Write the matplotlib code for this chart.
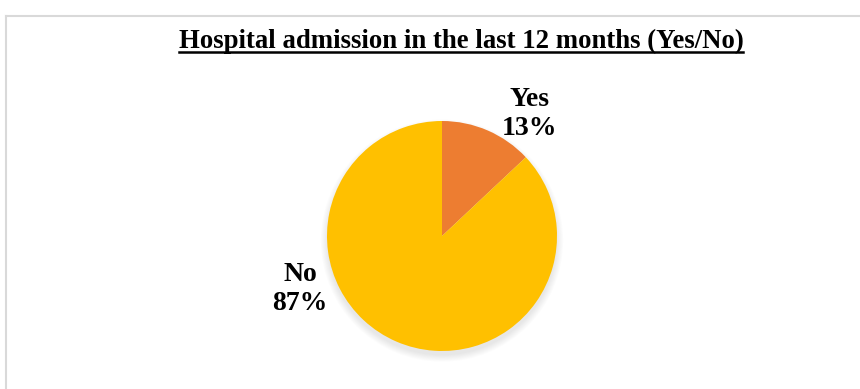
import numpy as np
import matplotlib
matplotlib.use("Agg")
import matplotlib.pyplot as plt
from matplotlib.lines import Line2D
from matplotlib.patches import Circle

# admissions in the last 12 months
labels = ["Yes", "No"]
shares = [13, 87]
colors = ["#ED7D31", "#FFC000"]

W, H = 860, 389
fig = plt.figure(figsize=(W / 100, H / 100), dpi=100)
fig.patch.set_facecolor("white")

# chart area frame (left and top edges visible)
fig.add_artist(Line2D([6 / W, 6 / W], [0, 1 - 16 / H], color="#D9D9D9", lw=1.5))
fig.add_artist(Line2D([6 / W, 1], [1 - 16 / H, 1 - 16 / H], color="#D9D9D9", lw=1.5))

serif = ["Liberation Serif", "DejaVu Serif"]

# title with underline
title = fig.text(461 / W, 1 - 48 / H, "Hospital admission in the last 12 months (Yes/No)",
                 ha="center", va="baseline", fontsize=19.3, fontweight="bold",
                 family=serif)

# pie axes, radius 1 mapped to 115 px, with room for the shadow
cx, cy, r, half = 442, 236, 115, 135
ax = fig.add_axes([(cx - half) / W, 1 - (cy + half) / H, 2 * half / W, 2 * half / H])
lim = half / r
ax.set_aspect("equal")
ax.axis("off")

# soft drop shadow, mostly below the pie
for k in range(8):
    ax.add_patch(Circle((0.0, -0.04), 0.99 + 0.008 * (8 - k), color="black",
                        alpha=0.012, lw=0, zorder=0))

ax.pie(shares, colors=colors, startangle=90, counterclock=False,
       wedgeprops=dict(linewidth=0), radius=1)
ax.set_xlim(-lim, lim)
ax.set_ylim(-lim, lim)

# data labels
label_pos = {"Yes": (529, 114), "No": (300, 289)}
for lab, val in zip(labels, shares):
    x, y = label_pos[lab]
    fig.text(x / W, 1 - y / H, f"{lab}\n{val}%", ha="center", va="center",
             fontsize=20, fontweight="bold", family=serif, linespacing=1.25)

fig.canvas.draw()
bb = title.get_window_extent()
uy = 1 - 52 / H
fig.add_artist(Line2D([bb.x0 / W, bb.x1 / W], [uy, uy], color="black", lw=1.8))

fig.savefig("out.png", dpi=100)
